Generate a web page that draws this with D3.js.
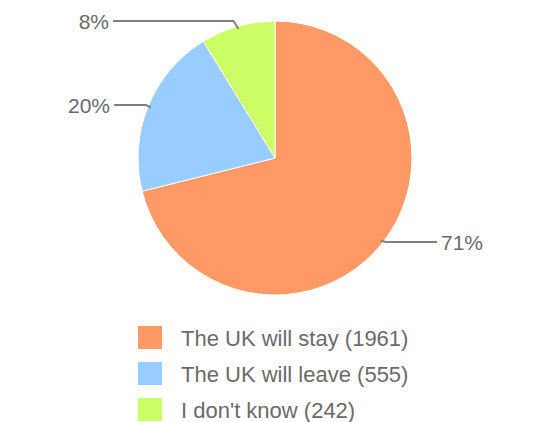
<!DOCTYPE html>
<html>
<head>
<meta charset="utf-8">
<script src="https://cdn.jsdelivr.net/npm/d3@7"></script>
<style>
  body { margin: 0; background: #fff; }
  text { font-family: "Liberation Sans", Arial, sans-serif; }
</style>
</head>
<body>
<div id="vis"></div>
<script>
const labels = ["The UK will stay", "The UK will leave", "I don't know"];
const counts = [1961, 555, 242];
const colors = ["#ff9966", "#99ccff", "#ccff66"];

const width = 550;
const height = 422;
const cx = 275, cy = 158, r = 137;

const svg = d3.select("#vis")
  .append("svg")
  .attr("width", width)
  .attr("height", height);

const total = d3.sum(counts);
const data = counts.map((v, i) => ({label: labels[i], value: v, color: colors[i]}));

const pie = d3.pie().sort(null).value(d => d.value);
const arc = d3.arc().innerRadius(0).outerRadius(r);
const arcs = pie(data);

const g = svg.append("g").attr("transform", `translate(${cx},${cy})`);

g.selectAll("path")
  .data(arcs)
  .join("path")
    .attr("d", arc)
    .attr("fill", d => d.data.color)
    .attr("stroke", "#fff")
    .attr("stroke-width", 1);

// label lines, google style: short bend then horizontal
const labelY = [84, -53, -137];
const labelX = [162, -161, -162];
arcs.forEach((d, i) => {
  const mid = (d.startAngle + d.endAngle) / 2;
  const px = Math.sin(mid) * (r - 3);
  const py = -Math.cos(mid) * (r - 3);
  const ly = labelY[i];
  const lx = labelX[i];
  const dir = lx > 0 ? 1 : -1;
  const bx = px + dir * 5;
  g.append("path")
    .attr("d", `M${px},${py}L${bx},${ly}L${lx},${ly}`)
    .attr("fill", "none")
    .attr("stroke", "#808080")
    .attr("stroke-width", 2);
  g.append("text")
    .attr("x", lx + dir * 4)
    .attr("y", ly)
    .attr("dy", "0.36em")
    .attr("text-anchor", dir > 0 ? "start" : "end")
    .attr("fill", "#6a6a6a")
    .attr("font-size", 21)
    .text(Math.floor(d.value / total * 100) + "%");
});

const legend = svg.append("g").attr("transform", "translate(138,326)");
const row = legend.selectAll("g")
  .data(data)
  .join("g")
    .attr("transform", (d, i) => `translate(0,${i * 36})`);

row.append("rect")
  .attr("width", 24)
  .attr("height", 23)
  .attr("fill", d => d.color);

row.append("text")
  .attr("x", 43)
  .attr("y", 12)
  .attr("dy", "0.36em")
  .attr("fill", "#6a6a6a")
  .attr("font-size", 22)
  .text(d => `${d.label} (${d.value})`);
</script>
</body>
</html>
